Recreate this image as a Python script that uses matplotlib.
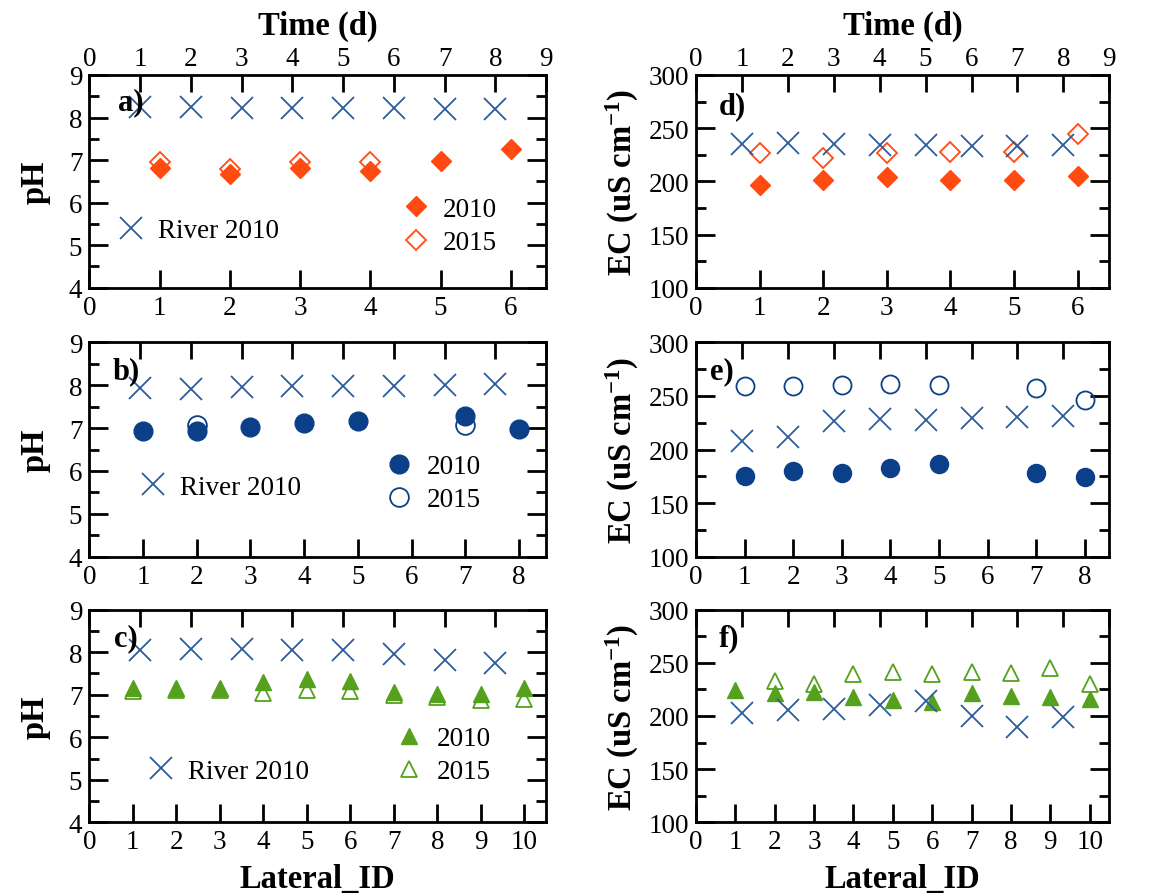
import matplotlib
matplotlib.use('Agg')
import matplotlib.pyplot as plt
from matplotlib.ticker import MultipleLocator

# ---------------- data ----------------
time_days = [1, 2, 3, 4, 5, 6, 7, 8]

# panel a (pH, lateral 1-6)
a_lat_2010 = [1, 2, 3, 4, 5, 6]
a_ph_2010 = [6.81, 6.67, 6.82, 6.75, 6.99, 7.25]
a_lat_2015 = [1, 2, 3, 4]
a_ph_2015 = [6.95, 6.80, 6.95, 6.95]
a_river_ph = [8.24, 8.25, 8.23, 8.23, 8.23, 8.22, 8.20, 8.19]

# panel b (pH, lateral 1-8)
b_lat_2010 = [1, 2, 3, 4, 5, 7, 8]
b_ph_2010 = [6.94, 6.92, 7.02, 7.12, 7.16, 7.27, 6.98]
b_lat_2015 = [2, 7]
b_ph_2015 = [7.06, 7.06]
b_river_ph = [7.93, 7.91, 7.95, 7.97, 7.97, 7.99, 8.00, 8.03]

# panel c (pH, lateral 1-10)
c_lat_2010 = [1, 2, 3, 4, 5, 6, 7, 8, 9, 10]
c_ph_2010 = [7.15, 7.15, 7.15, 7.30, 7.37, 7.33, 7.06, 7.01, 7.02, 7.15]
c_lat_2015 = [1, 2, 3, 4, 5, 6, 7, 8, 9, 10]
c_ph_2015 = [7.09, 7.11, 7.11, 7.03, 7.10, 7.08, 6.99, 6.95, 6.87, 6.90]
c_river_ph = [8.05, 8.08, 8.08, 8.05, 8.05, 7.96, 7.82, 7.75]

# panel d (EC, lateral 1-6)
d_lat_2010 = [1, 2, 3, 4, 5, 6]
d_ec_2010 = [196.9, 201.6, 204.1, 200.9, 200.9, 205.0]
d_lat_2015 = [1, 2, 3, 4, 5, 6]
d_ec_2015 = [226.7, 222.3, 227.0, 227.7, 227.7, 244.3]
d_river_ec = [234.9, 236.5, 235.5, 234.0, 234.0, 233.3, 233.3, 234.0]

# panel e (EC, lateral 1-8)
e_lat_2010 = [1, 2, 3, 4, 5, 7, 8]
e_ec_2010 = [175.6, 180.2, 177.8, 182.4, 186.5, 178.1, 174.0]
e_lat_2015 = [1, 2, 3, 4, 5, 7, 8]
e_ec_2015 = [258.9, 258.9, 260.2, 261.1, 260.2, 257.1, 246.2]
e_river_ec = [208.2, 211.4, 226.3, 228.5, 227.8, 229.4, 230.0, 231.0]

# panel f (EC, lateral 1-10)
f_lat_2010 = [1, 2, 3, 4, 5, 6, 7, 8, 9, 10]
f_ec_2010 = [224.9, 222.1, 222.2, 217.6, 214.6, 212.9, 221.5, 218.6, 217.6, 216.0]
f_lat_2015 = [2, 3, 4, 5, 6, 7, 8, 9, 10]
f_ec_2015 = [233.1, 230.3, 239.3, 241.5, 239.3, 241.5, 240.6, 245.3, 230.1]
f_river_ec = [202.8, 206.0, 206.6, 210.7, 214.4, 200.3, 189.3, 198.7]

panel_labels = ['a)', 'b)', 'c)', 'd)', 'e)', 'f)']
legend_labels = ['2010', '2015']
river_label = 'River 2010'

# ---------------- style ----------------
FONT = ['Liberation Serif', 'DejaVu Serif']
plt.rcParams['font.family'] = FONT
plt.rcParams['mathtext.fontset'] = 'custom'
plt.rcParams['mathtext.rm'] = 'Liberation Serif:bold'
plt.rcParams['mathtext.it'] = 'Liberation Serif:bold'

ORANGE = '#ff4a12'
NAVY = '#0b4088'
GREEN = '#55a11e'
XBLUE = '#2b5c9c'

TICK_FS = 19.5
LAB_FS = 23.5
LEG_FS = 19.5
LW = 2.0

fig = plt.figure(figsize=(11.76, 8.95), dpi=100)

W, H = 1176.0, 895.0
cols = [(89.3, 546.0), (696.0, 1109.3)]
rows = [(76.0, 288.7), (343.3, 557.7), (610.7, 823.3)]

rowspec = [
    dict(xmax=6.5, ticks=range(0, 7)),
    dict(xmax=8.5, ticks=range(0, 9)),
    dict(xmax=10.5, ticks=range(0, 11)),
]

ph_sets = [
    (a_lat_2010, a_ph_2010, a_lat_2015, a_ph_2015, a_river_ph, 'D', ORANGE, 10.5),
    (b_lat_2010, b_ph_2010, b_lat_2015, b_ph_2015, b_river_ph, 'o', NAVY, 13.5),
    (c_lat_2010, c_ph_2010, c_lat_2015, c_ph_2015, c_river_ph, '^', GREEN, 11.5),
]
ec_sets = [
    (d_lat_2010, d_ec_2010, d_lat_2015, d_ec_2015, d_river_ec, 'D', ORANGE, 10.5),
    (e_lat_2010, e_ec_2010, e_lat_2015, e_ec_2015, e_river_ec, 'o', NAVY, 13.0),
    (f_lat_2010, f_ec_2010, f_lat_2015, f_ec_2015, f_river_ec, '^', GREEN, 11.5),
]

label_pos = [(0.063, 0.873), (0.050, 0.867), (0.055, 0.870),
             (0.054, 0.856), (0.034, 0.867), (0.054, 0.870)]

# legend anchors (axes fraction) for left column
river_leg = [(0.062, 0.268), (0.109, 0.324), (0.127, 0.240)]
year_leg = [(0.686, 0.290), (0.649, 0.343), (0.671, 0.316)]


def style_axes(ax, ax2, xmax, xticks, ylim, ymaj, ymin, top_labels, bottom_label):
    ax.set_xlim(0, xmax)
    ax.set_xticks(list(xticks))
    ax.set_ylim(*ylim)
    ax.yaxis.set_major_locator(MultipleLocator(ymaj))
    ax.yaxis.set_minor_locator(MultipleLocator(ymin))
    ax.tick_params(axis='both', which='both', direction='in', width=LW,
                   labelsize=TICK_FS, top=False, right=True)
    ax.tick_params(axis='x', which='major', length=13, pad=5)
    ax.tick_params(axis='y', which='major', length=14, pad=5)
    ax.tick_params(axis='y', which='minor', length=7.5)
    for s in ax.spines.values():
        s.set_linewidth(LW)
    ax2.set_xlim(0, 9)
    ax2.set_xticks(range(0, 10))
    ax2.tick_params(axis='x', which='major', direction='in', length=12.5,
                    width=LW, labelsize=TICK_FS, pad=3,
                    labeltop=top_labels)
    if top_labels:
        ax2.set_xlabel('Time (d)', fontsize=LAB_FS, fontweight='bold', labelpad=9)
    if bottom_label:
        ax.set_xlabel('Lateral_ID', fontsize=LAB_FS, fontweight='bold', labelpad=6)


for ci, (sets, ylim, ymaj, ymin, ylab) in enumerate([
        (ph_sets, (4, 9), 1, 0.5, 'pH'),
        (ec_sets, (100, 300), 50, 25, 'EC (uS cm$^{-1}$)')]):
    x0, x1 = cols[ci]
    for ri in range(3):
        y0, y1 = rows[ri]
        rect = [x0 / W, 1 - y1 / H, (x1 - x0) / W, (y1 - y0) / H]
        ax = fig.add_axes(rect)
        ax2 = ax.twiny()
        lat10, v10, lat15, v15, river, mk, col, ms = sets[ri]
        style_axes(ax, ax2, rowspec[ri]['xmax'], rowspec[ri]['ticks'], ylim,
                   ymaj, ymin, top_labels=(ri == 0), bottom_label=(ri == 2))
        h15, = ax.plot(lat15, v15, linestyle='none', marker=mk, ms=ms,
                       mfc='none', mec=col, mew=1.3, label=legend_labels[1], zorder=3)
        h10, = ax.plot(lat10, v10, linestyle='none', marker=mk, ms=ms,
                       mfc=col, mec=col, mew=1.0, label=legend_labels[0], zorder=4)
        hr, = ax2.plot(time_days, river, linestyle='none', marker='x', ms=16,
                       mec=XBLUE, mew=1.3, label=river_label, zorder=5)
        ax.set_ylabel(ylab, fontsize=LAB_FS, fontweight='bold',
                      labelpad=13 if ci == 0 else 5)
        k = ci * 3 + ri
        ax2.text(label_pos[k][0], label_pos[k][1], panel_labels[k],
                 transform=ax.transAxes, fontsize=22, fontweight='bold',
                 ha='left', va='center', zorder=6)
        if ci == 0:
            leg1 = ax2.legend(handles=[hr], loc='center left',
                              bbox_to_anchor=river_leg[ri], frameon=False,
                              fontsize=LEG_FS, handlelength=1.0,
                              handletextpad=0.5, borderpad=0,
                              borderaxespad=0)
            ax2.add_artist(leg1)
            ax2.legend(handles=[h10, h15], loc='center left',
                       bbox_to_anchor=year_leg[ri], frameon=False,
                       fontsize=LEG_FS, handlelength=1.0,
                       handletextpad=0.5, borderpad=0, borderaxespad=0,
                       labelspacing=0.3)

fig.savefig('out.png', dpi=100)
